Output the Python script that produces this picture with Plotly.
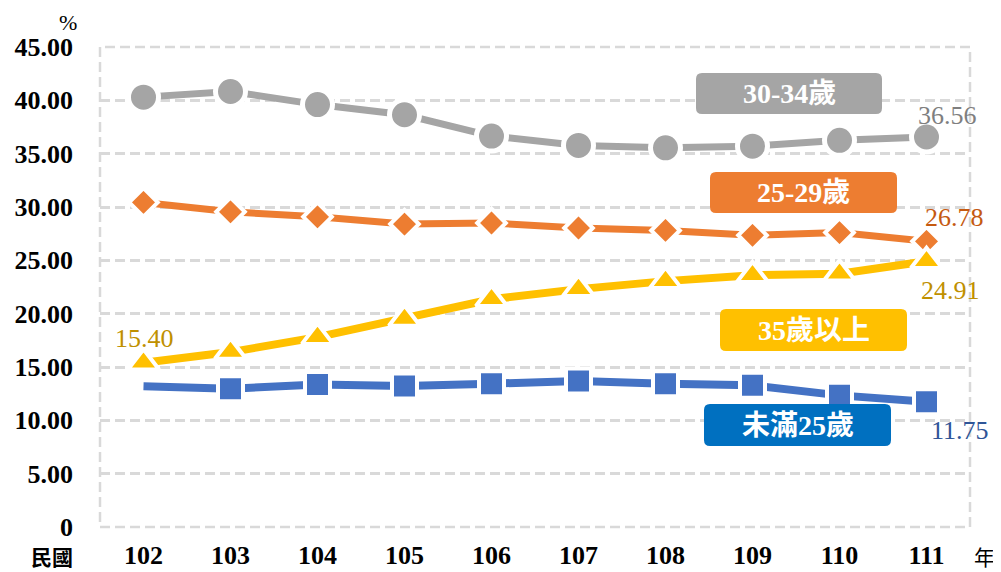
import plotly.graph_objects as go

years = ["102", "103", "104", "105", "106", "107", "108", "109", "110", "111"]
under25 = [13.20, 12.97, 13.35, 13.22, 13.44, 13.69, 13.44, 13.28, 12.34, 11.75]
age25_29 = [30.43, 29.55, 29.08, 28.40, 28.50, 28.03, 27.80, 27.35, 27.60, 26.78]
age30_34 = [40.30, 40.83, 39.60, 38.65, 36.65, 35.77, 35.55, 35.70, 36.25, 36.56]
age35plus = [15.40, 16.40, 17.80, 19.50, 21.35, 22.30, 23.05, 23.60, 23.75, 24.91]

y_tickvals = [0, 5, 10, 15, 20, 25, 30, 35, 40, 45]
y_ticktext = ["0", "5.00", "10.00", "15.00", "20.00", "25.00", "30.00", "35.00", "40.00", "45.00"]

series_names = ["30-34歲", "25-29歲", "35歲以上", "未滿25歲"]

SERIF = "Liberation Serif, Times New Roman, serif"
CJK = "Liberation Serif, Noto Sans CJK TC, serif"

# The page body has an 8px margin, so the figure is drawn from (8, 8)
OFF = 8
W, H = 1001 - OFF, 572 - OFF
# plot area in window pixels: x 100..970, y 47..527
L, R, T, B = 100 - OFF, 1001 - 970, 47 - OFF, 572 - 527
PW, PH = W - L - R, H - T - B


def px2paper(px, py):
    # window pixel coordinates -> paper coordinates
    return (px - OFF - L) / PW, (H - B - (py - OFF)) / PH


def rounded_rect(x0, y0, x1, y1, r=6):
    def p(x, y):
        a, b = px2paper(x, y)
        return f"{a:.5f},{b:.5f}"
    return (f"M{p(x0 + r, y0)} L{p(x1 - r, y0)} Q{p(x1, y0)} {p(x1, y0 + r)} "
            f"L{p(x1, y1 - r)} Q{p(x1, y1)} {p(x1 - r, y1)} "
            f"L{p(x0 + r, y1)} Q{p(x0, y1)} {p(x0, y1 - r)} "
            f"L{p(x0, y0 + r)} Q{p(x0, y0)} {p(x0 + r, y0)} Z")


fig = go.Figure()

fig.add_trace(go.Scatter(
    x=years, y=age30_34, mode="lines+markers", name=series_names[0],
    line=dict(color="#a5a5a5", width=7),
    marker=dict(symbol="circle", size=30, color="#a5a5a5", opacity=1,
                line=dict(color="white", width=5)),
))
fig.add_trace(go.Scatter(
    x=years, y=age25_29, mode="lines+markers", name=series_names[1],
    line=dict(color="#ed7d31", width=7),
    marker=dict(symbol="diamond", size=22, color="#ed7d31", opacity=1,
                line=dict(color="white", width=4)),
))
n = len(years)
fig.add_trace(go.Scatter(
    x=years, y=under25, mode="lines+markers", name=series_names[3],
    line=dict(color="#4472c4", width=8),
    marker=dict(symbol="square", size=[0] + [25] * (n - 1), color="#4472c4", opacity=1,
                line=dict(color="white", width=4)),
))
fig.add_trace(go.Scatter(
    x=years, y=age35plus, mode="lines+markers", name=series_names[2],
    line=dict(color="#ffc000", width=8),
    marker=dict(symbol="triangle-up", size=27, color="#ffc000", opacity=1,
                line=dict(color="white", width=4)),
))

annotations = []
last = n - 1
label_specs = [
    (age30_34, "#7f7f7f", 21, 22),
    (age25_29, "#c55a11", 28, 24),
    (age35plus, "#bf9000", 24, -29),
    (under25, "#2f5597", 33, -29),
]
for vals, col, xs, ys in label_specs:
    annotations.append(dict(x=last, y=vals[-1], xref="x", yref="y",
                            text=f"{vals[-1]:.2f}", showarrow=False,
                            xshift=xs, yshift=ys,
                            font=dict(family=SERIF, size=26, color=col)))
annotations.append(dict(x=0, y=age35plus[0], xref="x", yref="y",
                        text=f"{age35plus[0]:.2f}", showarrow=False,
                        xshift=1, yshift=24,
                        font=dict(family=SERIF, size=26, color="#bf9000")))

shapes = [dict(type="rect", xref="paper", yref="paper", x0=0, x1=1, y0=0, y1=1,
               line=dict(color="#d9d9d9", width=2.5, dash="10px,5px"), layer="below")]
callouts = [
    (series_names[0], "#a5a5a5", (696, 73, 882, 114)),
    (series_names[1], "#ed7d31", (710, 172, 897, 213)),
    (series_names[2], "#ffc000", (720, 309, 907, 351)),
    (series_names[3], "#0070c0", (704, 404, 891, 446)),
]
for text, col, (x0, y0, x1, y1) in callouts:
    shapes.append(dict(type="path", xref="paper", yref="paper",
                       path=rounded_rect(x0, y0, x1, y1), fillcolor=col,
                       line=dict(width=0), layer="above"))
    cx, cy = px2paper((x0 + x1) / 2, (y0 + y1) / 2)
    annotations.append(dict(x=cx, y=cy, xref="paper", yref="paper", text=text,
                            showarrow=False, xanchor="center", yanchor="middle",
                            font=dict(family=CJK, size=28, color="white", weight="bold")))

for txt, (px, py), size, weight, fam in [
    ("%", (68, 22), 22, "normal", SERIF),
    ("民國", (52, 556), 21, "bold", "Noto Sans CJK TC"),
    ("年", (985, 556), 21, "normal", "Noto Sans CJK TC"),
]:
    ax, ay = px2paper(px, py)
    annotations.append(dict(x=ax, y=ay, xref="paper", yref="paper", text=txt,
                            showarrow=False, xanchor="center", yanchor="middle",
                            font=dict(family=fam, size=size, color="black", weight=weight)))

fig.update_layout(
    width=W, height=H,
    margin=dict(l=L, r=R, t=T, b=B, autoexpand=False),
    plot_bgcolor="white", paper_bgcolor="white",
    showlegend=False,
    shapes=shapes, annotations=annotations,
    xaxis=dict(type="category", range=[-0.5, 9.5], showgrid=False, zeroline=False,
               showline=False, ticks="", ticklabelstandoff=10, automargin=False,
               tickfont=dict(family=SERIF, size=26, color="black", weight="bold")),
    yaxis=dict(range=[0, 45], tickvals=y_tickvals, ticktext=y_ticktext,
               showgrid=True, gridcolor="#d9d9d9", gridwidth=2.5, griddash="10px,5px",
               zeroline=False, showline=False, ticks="", ticklabelstandoff=26, automargin=False,
               tickfont=dict(family=SERIF, size=26, color="black", weight="bold")),
)

fig.write_html("out.html")
